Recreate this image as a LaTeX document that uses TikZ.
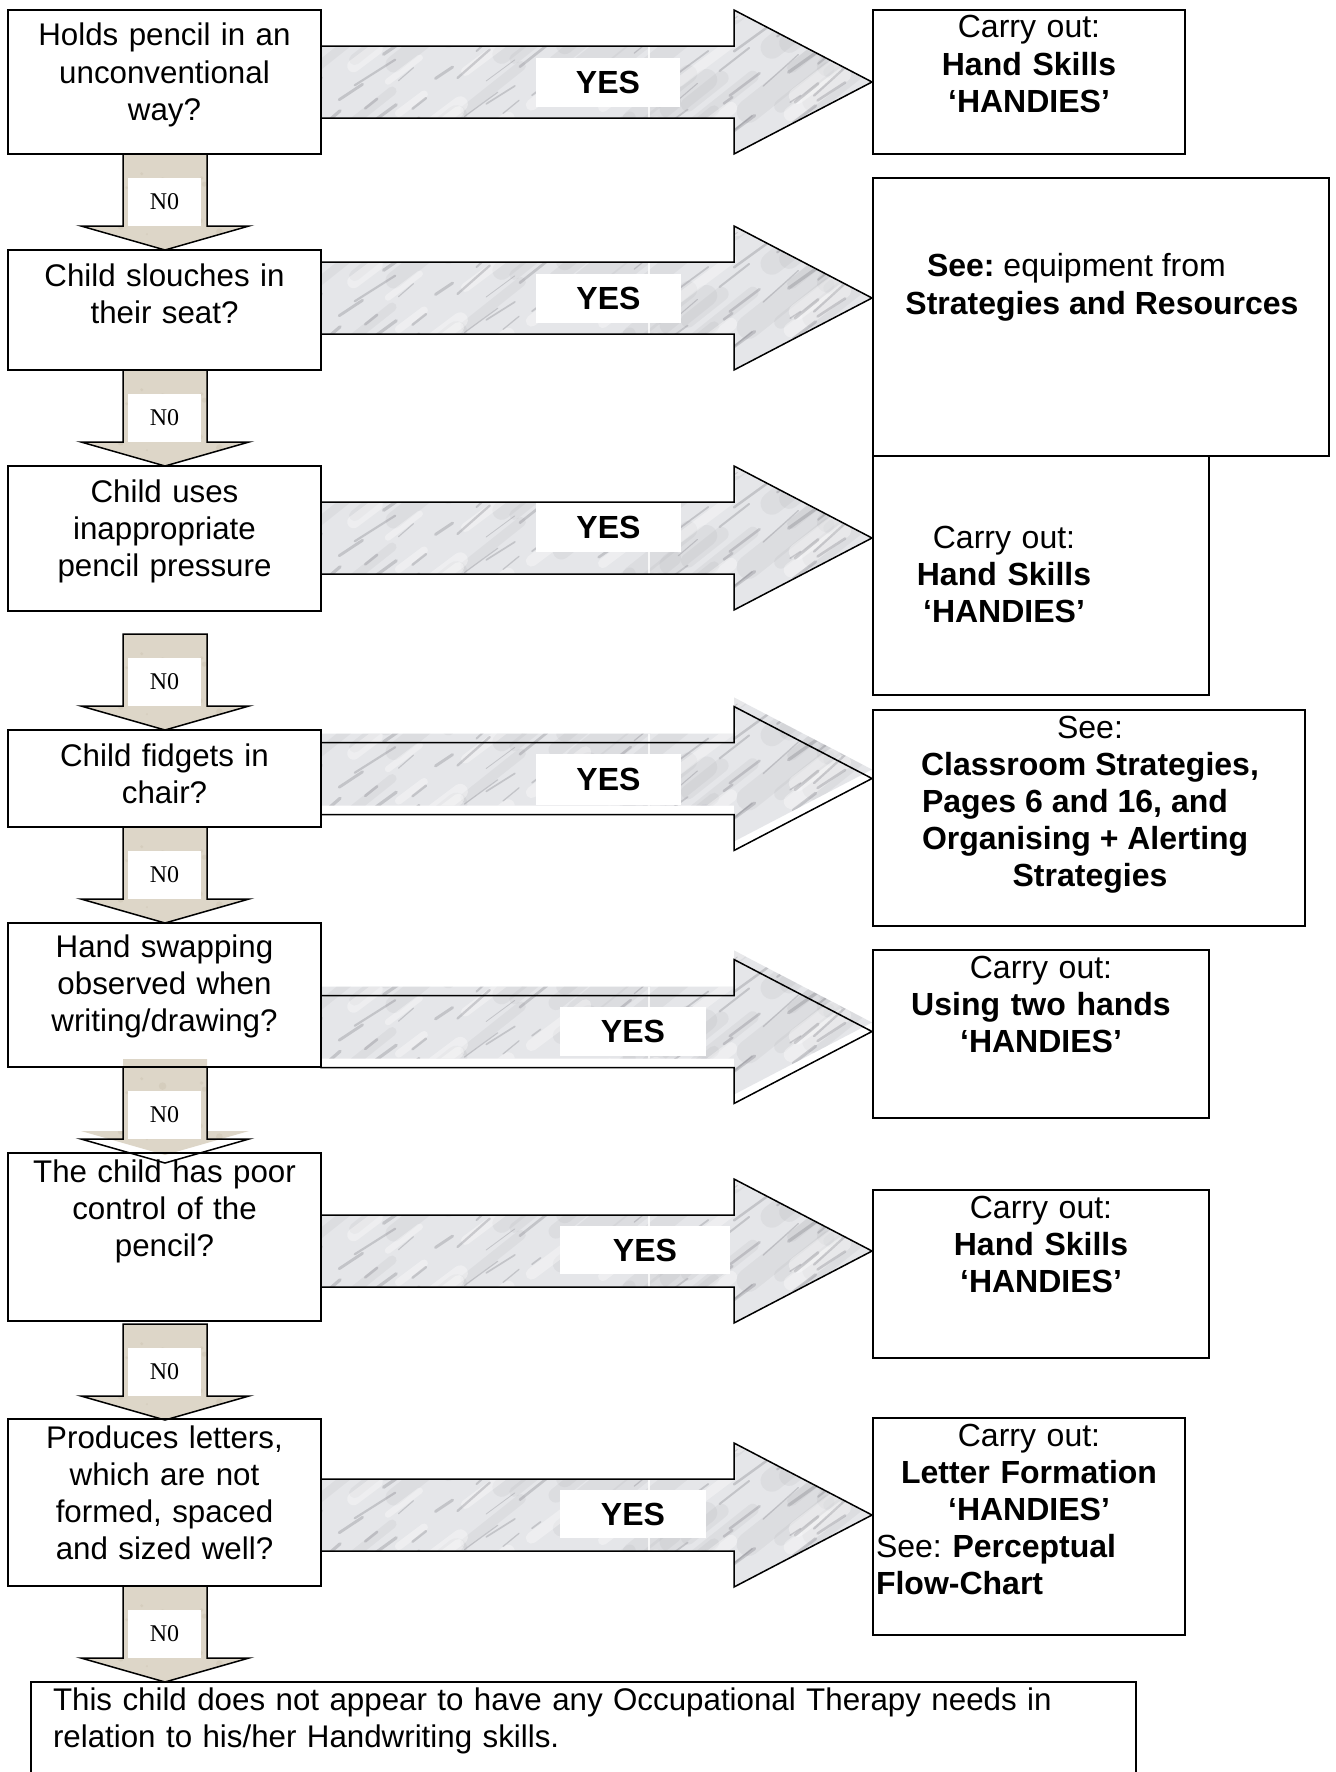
\documentclass[tikz,border=0pt]{standalone}
\usepackage{fontspec}
\setmainfont{Liberation Sans}
\newfontfamily\nofont{Liberation Serif}

\definecolor{marblebase}{RGB}{229,230,233}
\definecolor{marblevein}{RGB}{118,118,126}
\definecolor{marblecloud}{RGB}{150,150,158}
\definecolor{parch}{RGB}{221,214,200}
\definecolor{parchdark}{RGB}{190,180,160}

\newcommand\fcsize{\fontsize{16pt}{18.5pt}\selectfont\frenchspacing}
\newcommand\fqsize{\fontsize{15.65pt}{18.5pt}\selectfont\frenchspacing}

% a white box with its top-left and bottom-right corners given in pixels
\newcommand\mkbox[5]{%
  \node[boxnode, anchor=north west,
        minimum width={(#4-#2)*0.5pt}, minimum height={(#5-#3)*0.5pt}] (#1) at (#2,#3) {};}
\newcommand\frameof[1]{\draw[frame] (#1.north west) rectangle (#1.south east);}

% grey marble block arrow pointing right; #1 = centre y, #2 = lift of the fill
\newcommand\yesarrow[2]{%
  \pgfmathsetmacro\arwC{#1}%
  \pgfmathsetmacro\arwT{#1-#2}%
  \begin{scope}
    \clip (321,\arwT-36) -- (734,\arwT-36) -- (734,\arwT-72) -- (872,\arwT)
      -- (734,\arwT+72) -- (734,\arwT+36) -- (321,\arwT+36) -- cycle;
    \fill[marblebase] (300,\arwT-80) rectangle (880,\arwT+80);
    \pgfmathsetseed{4217}
    % broad soft clouds
    \foreach \k in {1,...,45}{
      \pgfmathsetmacro\sx{290+rnd*590}
      \pgfmathsetmacro\sy{\arwT-80+rnd*170}
      \pgfmathsetmacro\sl{30+rnd*70}
      \pgfmathsetmacro\sw{4+rnd*8}
      \draw[marblecloud, opacity=0.11, line width=\sw pt, line cap=round]
        (\sx,\sy) -- ++({0.78*\sl},{-0.62*\sl});
    }
    % white highlights
    \foreach \k in {1,...,25}{
      \pgfmathsetmacro\sx{290+rnd*590}
      \pgfmathsetmacro\sy{\arwT-80+rnd*170}
      \pgfmathsetmacro\sl{20+rnd*50}
      \pgfmathsetmacro\sw{3+rnd*6}
      \draw[white, opacity=0.35, line width=\sw pt, line cap=round]
        (\sx,\sy) -- ++({0.8*\sl},{-0.6*\sl});
    }
    % thin veins
    \foreach \k in {1,...,80}{
      \pgfmathsetmacro\sx{290+rnd*590}
      \pgfmathsetmacro\sy{\arwT-80+rnd*170}
      \pgfmathsetmacro\sl{10+rnd*40}
      \pgfmathsetmacro\sw{0.4+rnd*1.3}
      \pgfmathsetmacro\sd{0.5+rnd*0.25}
      \draw[marblevein, opacity=0.3, line width=\sw pt, line cap=round]
        (\sx,\sy) -- ++({0.82*\sl},{-\sd*\sl});
    }
    \draw[white, line width=0.6pt, opacity=0.8] (649,\arwT-40) -- (649,\arwT+40);
  \end{scope}
  \draw[arrowline] (321,\arwC-36) -- (734,\arwC-36) -- (734,\arwC-72) -- (872,\arwC)
      -- (734,\arwC+72) -- (734,\arwC+36) -- (321,\arwC+36) -- cycle;
}

% beige block arrow pointing down; #1 = top of shaft, #2 = lift of the fill, #3 = label name
\newcommand\noarrow[3]{%
  \pgfmathsetmacro\nwT{#1-#2}%
  \begin{scope}
    \clip (123,\nwT) -- (207,\nwT) -- (207,\nwT+72) -- (249,\nwT+72) -- (165,\nwT+96)
      -- (81,\nwT+72) -- (123,\nwT+72) -- cycle;
    \fill[parch] (70,\nwT-5) rectangle (260,\nwT+100);
    \pgfmathsetseed{913}
    \foreach \k in {1,...,30}{
      \pgfmathsetmacro\sx{75+rnd*180}
      \pgfmathsetmacro\sy{\nwT+rnd*96}
      \pgfmathsetmacro\sr{1+rnd*3}
      \fill[parchdark, opacity=0.25] (\sx,\sy) circle[radius=\sr];
    }
  \end{scope}
  \draw[arrowline] (123,#1) -- (207,#1) -- (207,#1+72) -- (249,#1+72) -- (165,#1+96)
      -- (81,#1+72) -- (123,#1+72) -- cycle;
  \node[nolabel] (#3) at (164.5,#1+48) {N0};
}

\begin{document}
\begin{tikzpicture}[x=0.5pt, y=-0.5pt,
  boxnode/.style={fill=white, draw=none, inner sep=0pt, outer sep=0pt},
  frame/.style={draw=black, line width=1pt},
  arrowline/.style={draw=black, line width=0.75pt, line join=miter},
  nolabel/.style={fill=white, inner sep=0pt, minimum width=36.5pt, minimum height=24pt,
    font=\nofont\fontsize{12pt}{14pt}\selectfont},
  yeslabel/.style={fill=white, inner sep=0pt, font=\fcsize\bfseries},
  txt/.style={font=\fcsize, inner sep=0pt, outer sep=0pt, anchor=base, align=center},
  qtxt/.style={txt, font=\fqsize},
  ltxt/.style={font=\fcsize, inner sep=0pt, outer sep=0pt, anchor=base west, align=left}]

\useasboundingbox (0,0) rectangle (1335,1772);
\clip (0,0) rectangle (1335,1772);
\fill[white] (0,0) rectangle (1335,1772);

% question boxes (left column)
\mkbox{L1}{8}{10}{321}{154}
\mkbox{L2}{8}{250}{321}{370}
\mkbox{L3}{8}{466}{321}{611}
\mkbox{L4}{8}{730}{321}{827}
\mkbox{L5}{8}{923}{321}{1067}
\mkbox{L6}{8}{1153}{321}{1321}
\mkbox{L7}{8}{1419}{321}{1586}
% action boxes (right column)
\mkbox{R1}{873}{10}{1185}{154}
\mkbox{R2}{873}{178}{1329}{456}
\mkbox{R3}{873}{456}{1209}{695}
\mkbox{R4}{873}{710}{1305}{926}
\mkbox{R5}{873}{950}{1209}{1118}
\mkbox{R6}{873}{1190}{1209}{1358}
\mkbox{R7}{873}{1418}{1185}{1635}
% closing box
\mkbox{B}{31}{1682}{1136}{1800}

% NO arrows down the left column
\noarrow{154}{0}{N1}
\noarrow{370}{0}{N2}
\noarrow{634}{0}{N3}
\noarrow{827}{0}{N4}
\noarrow{1067}{8}{N5}
\noarrow{1324}{0}{N6}
\noarrow{1586}{0}{N7}

% YES arrows across to the actions
\yesarrow{82}{0}
\yesarrow{298}{0}
\yesarrow{538}{0}
\yesarrow{778.5}{9}
\yesarrow{1031.5}{9}
\yesarrow{1251}{0}
\yesarrow{1515}{0}

\node[yeslabel, minimum width=72pt,   minimum height=24.5pt] (Y1) at (608,82.5)   {YES};
\node[yeslabel, minimum width=72.5pt, minimum height=24.5pt] (Y2) at (608.5,298.5) {YES};
\node[yeslabel, minimum width=72.5pt, minimum height=24.5pt] (Y3) at (608.5,527.5) {YES};
\node[yeslabel, minimum width=72.5pt, minimum height=25.5pt] (Y4) at (608.5,779.5) {YES};
\node[yeslabel, minimum width=73pt,   minimum height=24.5pt] (Y5) at (633,1031.5)  {YES};
\node[yeslabel, minimum width=85pt,   minimum height=24pt]   (Y6) at (645,1250)    {YES};
\node[yeslabel, minimum width=73pt,   minimum height=24pt]   (Y7) at (633,1514)    {YES};

% box outlines
\frameof{L1}\frameof{L2}\frameof{L3}\frameof{L4}\frameof{L5}\frameof{L6}\frameof{L7}
\frameof{R1}\frameof{R2}\frameof{R3}\frameof{R4}\frameof{R5}\frameof{R6}\frameof{R7}
\frameof{B}

% questions
\node[qtxt, text width=155pt] (L1t) at (164.5,46)   {Holds pencil in an\\unconventional\\way?};
\node[qtxt, text width=155pt] (L2t) at (164.5,286)  {Child slouches in\\their seat?};
\node[qtxt, text width=155pt] (L3t) at (164.5,502)  {Child uses\\inappropriate\\pencil pressure};
\node[qtxt, text width=155pt] (L4t) at (164.5,766)  {Child fidgets in\\chair?};
\node[qtxt, text width=155pt] (L5t) at (164.5,957)  {Hand swapping\\observed when\\writing/drawing?};
\node[qtxt, text width=155pt] (L6t) at (164.5,1182) {The child has poor\\control of the\\pencil?};
\node[qtxt, text width=155pt] (L7t) at (164.5,1448) {Produces letters,\\which are not\\formed, spaced\\and sized well?};

% actions
\node[txt, text width=150pt] (R1t) at (1029,38) {Carry out:\\\textbf{Hand Skills}\\\textbf{‘HANDIES’}};
\node[ltxt] (R2a) at (927,276) {\textbf{See:} equipment from};
\node[txt]  (R2b) at (1102,314) {\textbf{Strategies and Resources}};
\node[txt, text width=150pt] (R3t) at (1004,548) {Carry out:\\\textbf{Hand Skills}\\\textbf{‘HANDIES’}};
\node[txt]  (R4a) at (1090,738) {See:};
\node[txt]  (R4b) at (1090,775) {\textbf{Classroom Strategies,}};
\node[ltxt] (R4c) at (922,812)  {\textbf{Pages 6 and 16, and}};
\node[ltxt] (R4d) at (922,849)  {\textbf{Organising + Alerting}};
\node[txt]  (R4e) at (1090,886) {\textbf{Strategies}};
\node[txt, text width=160pt] (R5t) at (1041,978)  {Carry out:\\\textbf{Using two hands}\\\textbf{‘HANDIES’}};
\node[txt, text width=160pt] (R6t) at (1041,1218) {Carry out:\\\textbf{Hand Skills}\\\textbf{‘HANDIES’}};
\node[txt, text width=150pt] (R7a) at (1029,1446) {Carry out:\\\textbf{Letter Formation}\\\textbf{‘HANDIES’}};
\node[ltxt, text width=150pt] (R7b) at (876,1557) {See: \textbf{Perceptual}\\\textbf{Flow-Chart}};

% conclusion
\node[ltxt, font=\fqsize, text width=545pt] (Bt) at (53,1710)
  {This child does not appear to have any Occupational Therapy needs in\\relation to his/her Handwriting skills.};
\end{tikzpicture}
\end{document}
